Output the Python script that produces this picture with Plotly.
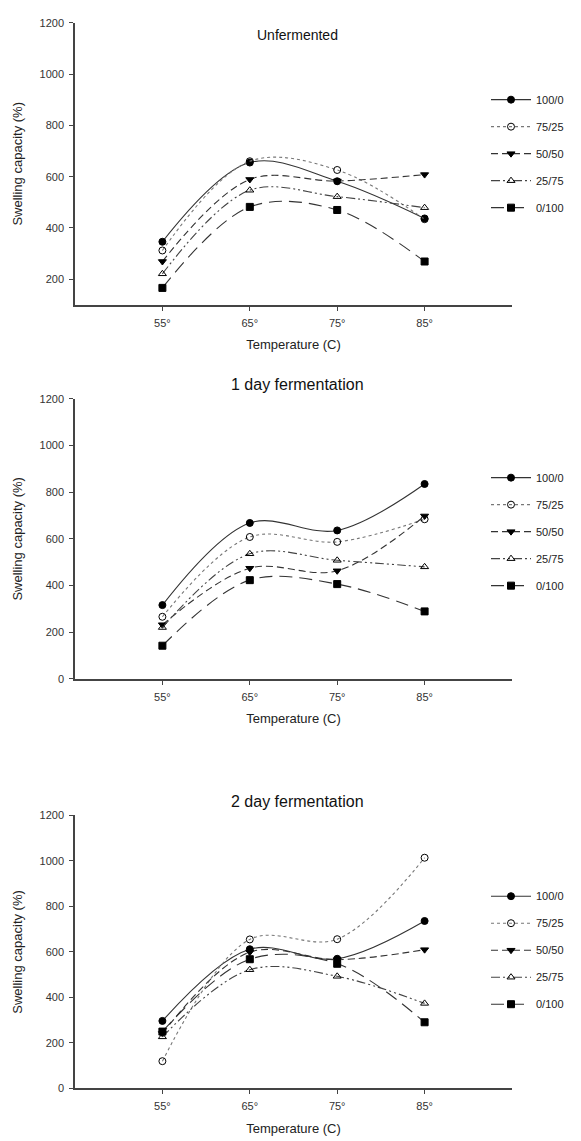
import plotly.graph_objects as go

temperatures = [55, 65, 75, 85]
temperature_labels = ["55°", "65°", "75°", "85°"]
ratios = ["100/0", "75/25", "50/50", "25/75", "0/100"]
panel_titles = ["Unfermented", "1 day fermentation", "2 day fermentation"]

# Swelling capacity (%) per ratio, at 55, 65, 75, 85 °C
unfermented = [
    [346, 655, 582, 437],
    [312, 660, 626, 434],
    [269, 589, 583, 608],
    [221, 547, 522, 479],
    [166, 482, 470, 269],
]
one_day = [
    [316, 668, 636, 835],
    [266, 608, 587, 684],
    [232, 474, 463, 698],
    [220, 536, 508, 480],
    [142, 423, 406, 289],
]
two_day = [
    [297, 612, 570, 736],
    [120, 655, 656, 1014],
    [242, 599, 566, 610],
    [227, 522, 493, 374],
    [250, 568, 548, 291],
]
panels = [unfermented, one_day, two_day]
y_ranges = [[100, 1200], [0, 1200], [0, 1200]]
y_ticks = [[200, 400, 600, 800, 1000, 1200], [0, 200, 400, 600, 800, 1000, 1200], [0, 200, 400, 600, 800, 1000, 1200]]

W, H = 581, 1141
FONT = "Liberation Sans, Arial, sans-serif"

styles = [
    dict(dash="solid", symbol="circle", lcolor="#333333"),
    dict(dash="dot", symbol="circle-open", lcolor="#777777"),
    dict(dash="7px,4px", symbol="triangle-down", lcolor="#333333"),
    dict(dash="9px,3px,2px,3px,2px,3px", symbol="triangle-up-open", lcolor="#444444"),
    dict(dash="13px,7px", symbol="square", lcolor="#333333"),
]

# plot-area geometry in pixels (top, bottom)
py = [(17, 302), (397, 680), (818, 1094)]
px = (75, 512)
legend_tops = [80, 462, 885]
title_y = [29, 383, 804]
title_size = [14, 16, 16]

fig = go.Figure()
for p, data in enumerate(panels):
    n = "" if p == 0 else str(p + 1)
    leg = "legend" if p == 0 else f"legend{p + 1}"
    for i, ratio in enumerate(ratios):
        s = styles[i]
        fig.add_trace(go.Scatter(
            x=temperatures, y=data[i], name=ratio,
            mode="lines+markers",
            line=dict(shape="spline", smoothing=1.0, dash=s["dash"], color=s["lcolor"], width=1.1),
            marker=dict(symbol=s["symbol"], size=7, color="black", line=dict(color="black", width=1)),
            xaxis="x" + n, yaxis="y" + n, legend=leg, legendgroup=f"g{p}_{i}",
        ))
    top, bot = py[p]
    axis_common = dict(showline=True, linecolor="#444444", linewidth=1.5, ticks="outside",
                       ticklen=4, tickcolor="#444444", showgrid=False, zeroline=False,
                       tickfont=dict(family=FONT, size=11, color="#333333"), mirror=False)
    fig.layout["xaxis" + n] = dict(
        axis_common, domain=[px[0] / W, px[1] / W], range=[45, 95],
        tickvals=temperatures, ticktext=temperature_labels,
        anchor="y" + n, ticklabelstandoff=3,
        title=dict(text="Temperature (C)", font=dict(family=FONT, size=13, color="#222222"), standoff=12),
    )
    fig.layout["yaxis" + n] = dict(
        axis_common, domain=[1 - bot / H, 1 - top / H], range=y_ranges[p],
        tickvals=y_ticks[p], anchor="x" + n, ticklabelstandoff=3,
        title=dict(text="Swelling capacity (%)", font=dict(family=FONT, size=13, color="#222222"), standoff=14),
    )
    fig.layout[leg] = dict(
        x=486 / W, y=1 - legend_tops[p] / H, xanchor="left", yanchor="top",
        font=dict(family=FONT, size=11, color="#222222"), tracegroupgap=8,
        bgcolor="rgba(0,0,0,0)", itemwidth=40,
    )
    fig.add_annotation(text=panel_titles[p], x=297 / W, y=1 - title_y[p] / H, xref="paper", yref="paper",
                       showarrow=False, font=dict(family=FONT, size=title_size[p], color="#111111"),
                       xanchor="center", yanchor="middle")

fig.update_layout(width=W, height=H, margin=dict(l=0, r=0, t=0, b=0),
                  paper_bgcolor="white", plot_bgcolor="white", showlegend=True)
fig.write_html("out.html")
